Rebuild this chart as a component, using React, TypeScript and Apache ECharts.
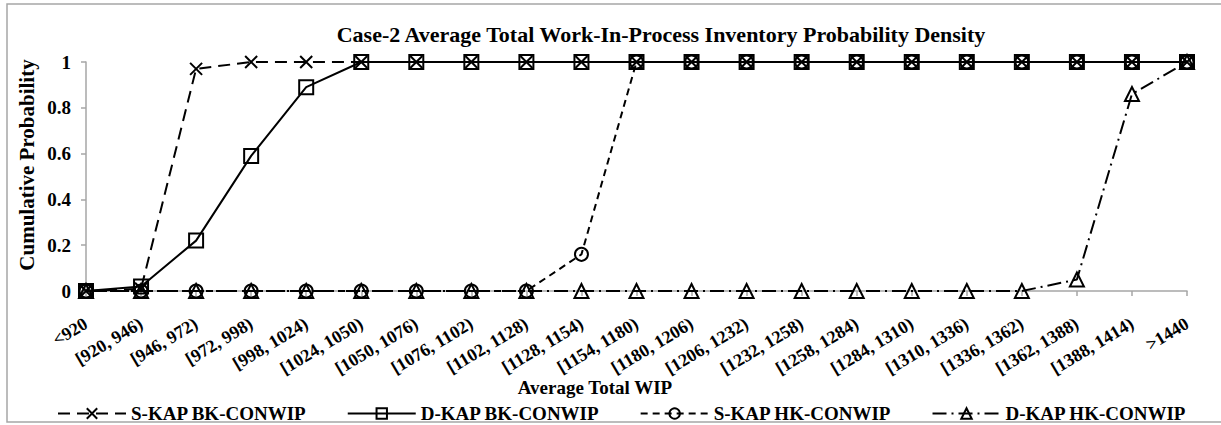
import React, { useEffect, useRef } from "react";
import * as echarts from "echarts";

const categories = [
  "<920", "[920, 946)", "[946, 972)", "[972, 998)", "[998, 1024)", "[1024, 1050)",
  "[1050, 1076)", "[1076, 1102)", "[1102, 1128)", "[1128, 1154)", "[1154, 1180)",
  "[1180, 1206)", "[1206, 1232)", "[1232, 1258)", "[1258, 1284)", "[1284, 1310)",
  "[1310, 1336)", "[1336, 1362)", "[1362, 1388)", "[1388, 1414)", ">1440",
];

const skapBK = [0, 0.01, 0.97, 1, 1, 1, 1, 1, 1, 1, 1, 1, 1, 1, 1, 1, 1, 1, 1, 1, 1];
const dkapBK = [0, 0.02, 0.22, 0.59, 0.89, 1, 1, 1, 1, 1, 1, 1, 1, 1, 1, 1, 1, 1, 1, 1, 1];
const skapHK = [0, 0, 0, 0, 0, 0, 0, 0, 0, 0.16, 1, 1, 1, 1, 1, 1, 1, 1, 1, 1, 1];
const dkapHK = [0, 0, 0, 0, 0, 0, 0, 0, 0, 0, 0, 0, 0, 0, 0, 0, 0, 0, 0.05, 0.86, 1];

const seriesNames = ["S-KAP BK-CONWIP", "D-KAP BK-CONWIP", "S-KAP HK-CONWIP", "D-KAP HK-CONWIP"];

const FONT = "'Liberation Serif', 'Times New Roman', serif";

export default function App() {
  const ref = useRef<HTMLDivElement>(null);
  useEffect(() => {
    const chart = echarts.init(ref.current!, null, { renderer: "svg" });
    const mk = (
      name: string,
      data: number[],
      symbol: string,
      symbolSize: number,
      dash: any,
      z: number
    ) => ({
      name,
      type: "line",
      data,
      symbol,
      symbolSize,
      showAllSymbol: true,
      z,
      lineStyle: { color: "#000", width: 2, type: dash },
      itemStyle: { color: "rgba(255,255,255,0)", borderColor: "#000", borderWidth: 2 },
      emphasis: { disabled: true },
    });
    chart.setOption({
      animation: false,
      backgroundColor: "#fff",
      title: {
        text: "Case-2 Average Total Work-In-Process Inventory Probability Density",
        left: 656,
        textAlign: "center",
        top: 18,
        textStyle: { fontFamily: FONT, fontWeight: "bold", fontSize: 22, color: "#000" },
      },
      grid: { left: 86, right: 34, top: 62, bottom: 134, containLabel: false },
      legend: {
        left: 52,
        top: 399,
        itemWidth: 68,
        itemHeight: 13,
        itemGap: 40,
        textStyle: { fontFamily: FONT, fontWeight: "bold", fontSize: 19, color: "#000" },
        data: seriesNames,
      },
      xAxis: {
        type: "category",
        data: categories,
        boundaryGap: false,
        axisLine: { lineStyle: { color: "#a6a6a6", width: 1.5 } },
        axisTick: { alignWithLabel: true, length: 5, lineStyle: { color: "#a6a6a6", width: 1.5 } },
        axisLabel: {
          rotate: 31,
          interval: 0,
          margin: 31,
          fontFamily: FONT,
          fontWeight: "bold",
          fontSize: 18,
          color: "#000",
        },
      },
      yAxis: {
        type: "value",
        min: 0,
        max: 1,
        interval: 0.2,
        splitLine: { show: false },
        axisLine: { show: true, lineStyle: { color: "#a6a6a6", width: 1.5 } },
        axisTick: { show: true, length: 5, lineStyle: { color: "#a6a6a6", width: 1.5 } },
        axisLabel: {
          margin: 15,
          fontFamily: FONT,
          fontWeight: "bold",
          fontSize: 19,
          color: "#000",
          formatter: (v: number) => String(Math.round(v * 10) / 10),
        },
      },
      graphic: [
        {
          type: "rect",
          shape: { x: 7, y: 4, width: 1220, height: 418 },
          style: { fill: "none", stroke: "#a6a6a6", lineWidth: 1.5 },
          silent: true,
        },
        {
          type: "text",
          x: 27,
          y: 165,
          rotation: Math.PI / 2,
          style: {
            text: "Cumulative Probability",
            fontFamily: FONT,
            fontWeight: "bold",
            fontSize: 21,
            fill: "#000",
            align: "center",
            verticalAlign: "middle",
          },
        },
        {
          type: "text",
          x: 595,
          y: 387,
          style: {
            text: "Average Total WIP",
            fontFamily: FONT,
            fontWeight: "bold",
            fontSize: 19,
            fill: "#000",
            align: "center",
            verticalAlign: "middle",
          },
        },
      ],
      series: [
        mk(seriesNames[0], skapBK, "path://M0,0L10,10M10,0L0,10", 12, [12, 7], 2),
        mk(seriesNames[1], dkapBK, "rect", 14, "solid", 3),
        mk(seriesNames[2], skapHK, "circle", 13, [7, 5], 4),
        mk(seriesNames[3], dkapHK, "triangle", 14, [14, 5, 2, 5], 5),
      ],
    });
    return () => chart.dispose();
  }, []);
  return (
    <div
      ref={ref}
      style={{ position: "fixed", left: 0, top: 0, width: 1221, height: 425 }}
    />
  );
}
